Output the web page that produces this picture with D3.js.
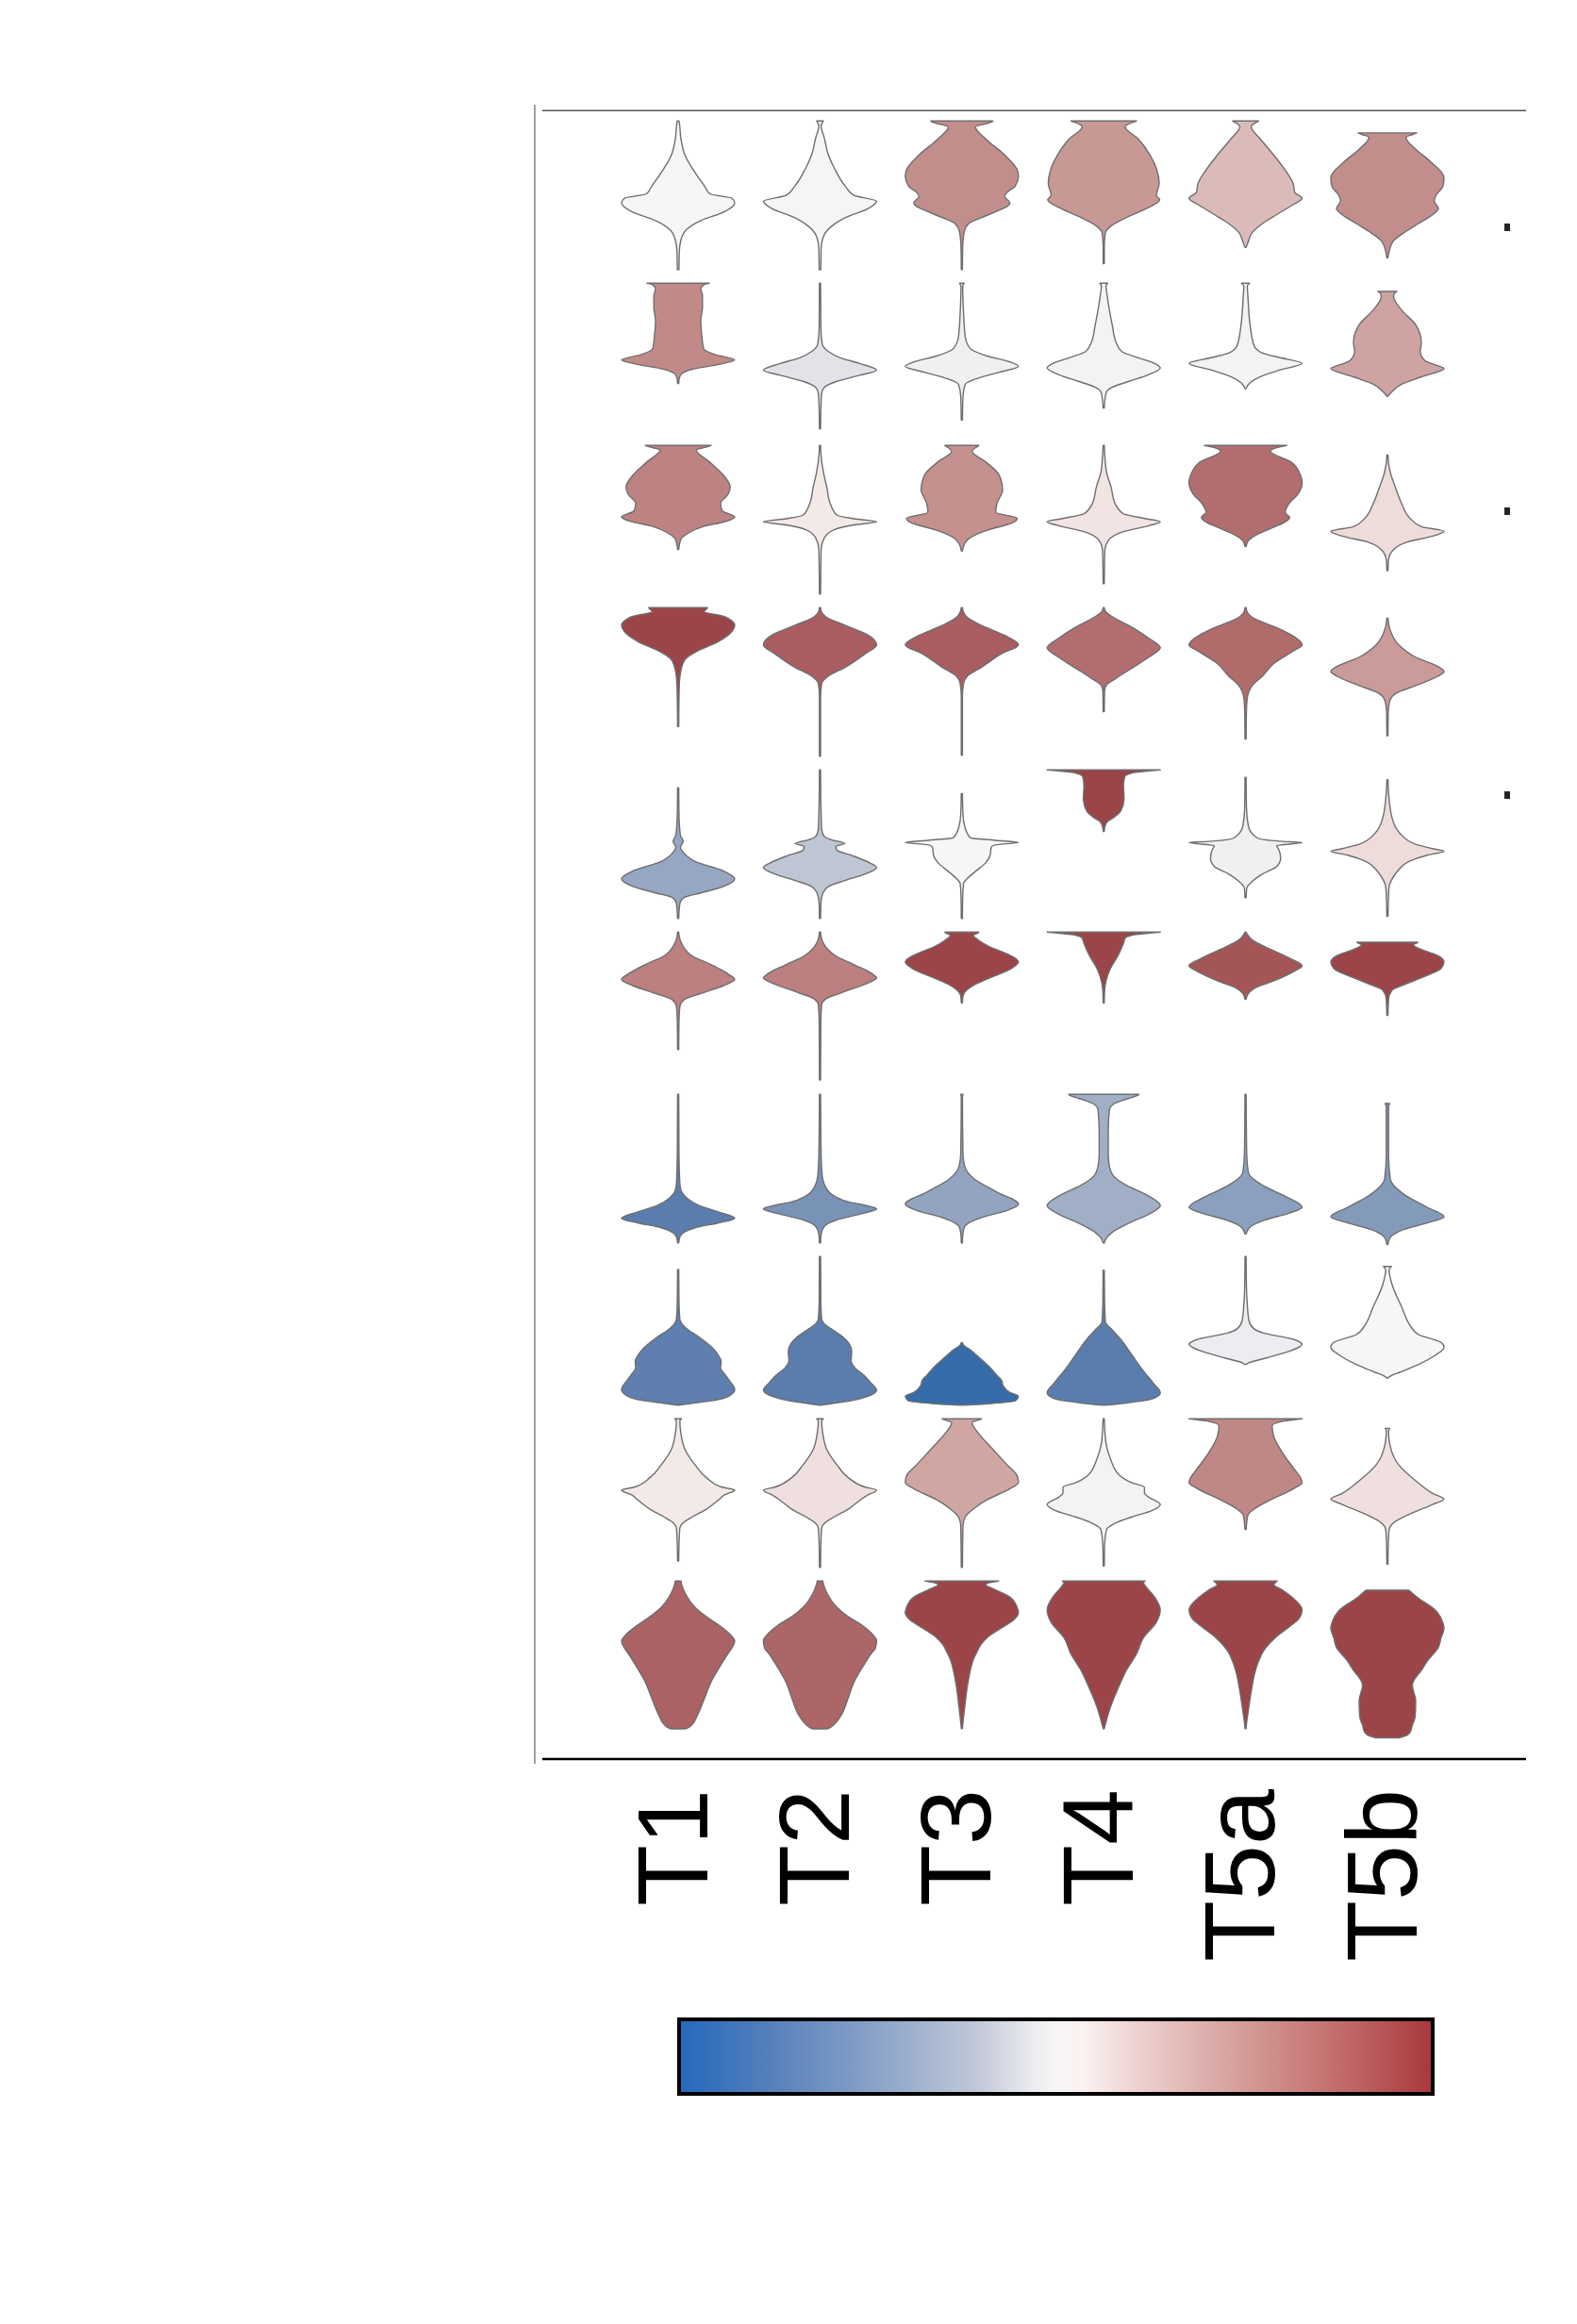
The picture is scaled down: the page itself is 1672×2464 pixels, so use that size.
<!DOCTYPE html>
<html><head><meta charset="utf-8">
<script src="https://cdn.jsdelivr.net/npm/d3@7"></script>
<style>html,body{margin:0;padding:0;background:#fff;} svg{display:block;}</style>
</head><body><svg id="chart" width="1672" height="2464"></svg>
<script>
// ---------------- DATA ----------------
const groups = ["T1", "T2", "T3", "T4", "T5a", "T5b"];
const genes = ["g1", "g2", "g3", "g4", "g5", "g6", "g7", "g8", "g9", "g10"];

// colour value (0 = low / blue, 1 = high / red) of each violin, rows = genes, cols = groups
const colorValues = [
  [0.50, 0.52, 0.81, 0.78, 0.68, 0.81],
  [0.82, 0.45, 0.48, 0.49, 0.49, 0.75],
  [0.84, 0.56, 0.80, 0.57, 0.90, 0.59],
  [1.00, 0.94, 0.94, 0.90, 0.91, 0.77],
  [0.27, 0.38, 0.50, 1.00, 0.48, 0.59],
  [0.85, 0.85, 1.00, 1.00, 0.96, 1.00],
  [0.10, 0.19, 0.26, 0.30, 0.24, 0.22],
  [0.11, 0.10, 0.00, 0.10, 0.47, 0.50],
  [0.56, 0.58, 0.74, 0.49, 0.83, 0.58],
  [0.93, 0.92, 1.00, 1.00, 1.00, 1.00]
];

// density outlines: [value (0-100 of gene range), relative width (0-1)], from top to bottom
const violinShapes = [
  [ // gene 1
    [[100,.015],[99,.02],[88,.05],[77,.12],[67,.27],[56,.47],[51,.56],[48,.95],[45,1],[39,.82],[33,.4],[27,.15],[20,.05],[12,.02],[0,.015]],
    [[100,.06],[97,.02],[88,.08],[77,.15],[67,.27],[56,.45],[50,.6],[46,1],[41,.85],[35,.45],[29,.2],[23,.07],[14,.02],[0,.015]],
    [[100,.55],[99,.5],[96,.24],[88,.42],[77,.76],[67,.98],[63,1],[56,.94],[52,.8],[49,.76],[45,.85],[43,.82],[39,.6],[35,.35],[31,.12],[25,.04],[15,.015],[0,.01]],
    [[100,.58],[99,.5],[96,.38],[88,.61],[77,.82],[67,.94],[58,.98],[50,.93],[47,.99],[41,.75],[35,.4],[29,.12],[25,.03],[15,.01],[4,.01]],
    [[100,.23],[99,.18],[96,.1],[88,.26],[77,.5],[67,.7],[58,.84],[52,.87],[48,1],[44,.85],[37,.55],[31,.3],[25,.12],[18,.04],[15,.01]],
    [[92,.52],[91,.45],[89,.33],[81,.5],[73,.75],[62,1],[56,.98],[50,.86],[46,.83],[41,.9],[37,.8],[31,.55],[25,.3],[19,.1],[12,.03],[8,.01]]
  ],
  [ // gene 2
    [[100,.55],[99,.45],[96,.4],[91.7,.43],[84,.43],[74.8,.4],[64,.42],[56,.45],[52,.65],[48.4,1],[45.2,.7],[42.1,.25],[39,.06],[36,.02],[32.5,.01]],
    [[100,.01],[70,.015],[59,.04],[54,.15],[50,.35],[46,.7],[41.5,1],[38,.7],[34,.3],[30,.08],[26,.03],[15,.015],[2,.01]],
    [[100,.04],[98,.015],[80,.03],[64,.06],[56,.15],[51,.45],[47,.85],[44,1],[40,.65],[36,.28],[32,.06],[24,.02],[8,.01]],
    [[100,.07],[98,.04],[92,.06],[82,.1],[72,.15],[60,.22],[54,.32],[50,.6],[46,.9],[43,1],[38.5,.8],[34,.45],[30,.15],[27,.05],[21,.02],[16,.01]],
    [[100,.07],[98,.03],[92,.04],[72,.08],[58,.15],[53,.3],[50,.6],[46,1],[41.5,.6],[37,.25],[33,.08],[30,.02],[29,.01]],
    [[94.5,.17],[93,.12],[91,.11],[82,.25],[72,.5],[60,.6],[54,.58],[48,.66],[45,.85],[42.6,1],[37,.6],[32,.25],[27,.08],[24,.01]]
  ],
  [ // gene 3
    [[100,.58],[99,.5],[97,.32],[89,.55],[80,.8],[72,.92],[67,.88],[61,.75],[56,.78],[52,1],[49,.85],[45.5,.45],[41,.18],[37,.05],[30,.01]],
    [[100,.01],[95,.015],[82,.06],[72,.12],[61,.18],[53,.3],[50.7,.6],[48.6,1],[46.5,.6],[43.3,.25],[38,.08],[30,.02],[0,.01]],
    [[100,.3],[99,.26],[96,.18],[89,.42],[80,.66],[70,.72],[61,.62],[55,.6],[51,.98],[48,.9],[43,.45],[38,.15],[34,.05],[29,.01]],
    [[100,.01],[96,.015],[82,.05],[72,.13],[61,.2],[54,.35],[50.7,.75],[48.6,1],[46,.8],[42,.35],[36,.08],[29.5,.02],[7,.01]],
    [[100,.73],[99,.6],[96,.44],[89,.8],[80,.97],[75,1],[67,.92],[61,.77],[55,.7],[51.5,.78],[49,.72],[45,.5],[40,.2],[36,.05],[32,.01]],
    [[93.5,.01],[90,.015],[82,.05],[72,.14],[61,.25],[51,.4],[45.4,.6],[42.2,1],[39,.8],[35,.35],[29.5,.1],[23,.02],[15.7,.01]]
  ],
  [ // gene 4
    [[100,.52],[99,.5],[97.4,.46],[94,.82],[88,1],[84,.95],[77,.7],[71,.35],[65,.12],[56,.04],[48,.02],[20,.01]],
    [[100,.01],[97,.03],[94,.1],[88,.45],[81.5,.85],[75,1],[69,.8],[60,.45],[54,.15],[49,.03],[40,.01],[0,.01]],
    [[100,.01],[97,.03],[94,.08],[88,.35],[81.5,.75],[75,1],[69,.7],[60,.35],[54,.1],[49,.03],[40,.01],[0.6,.01]],
    [[100,.01],[97,.04],[94,.15],[85.7,.55],[79.4,.8],[73,1],[66.7,.8],[58.2,.45],[52,.2],[48,.05],[44,.015],[30,.01]],
    [[100,.01],[97,.03],[94,.1],[85.7,.6],[79.4,.9],[75,1],[71,.85],[62.4,.5],[54,.3],[47.6,.12],[39,.03],[30,.015],[11.6,.01]],
    [[93,.01],[86,.04],[75,.2],[66.7,.5],[60.3,.9],[57,1],[54,.9],[47.6,.5],[42.3,.15],[37,.04],[30,.015],[13.8,.01]]
  ],
  [ // gene 5
    [[88,.01],[70,.015],[56,.04],[52,.09],[48,.04],[45,.08],[38.4,.3],[32,.8],[26.8,1],[21.5,.8],[17.2,.4],[14,.1],[10,.03],[0,.01]],
    [[100,.01],[80,.015],[60,.03],[55,.08],[53,.2],[50.5,.44],[48.5,.28],[46,.3],[42.6,.55],[37.4,.88],[34.2,1],[30,.8],[25.7,.45],[21.5,.15],[17,.05],[10,.015],[0,.01]],
    [[84,.01],[70,.02],[62,.05],[54.3,.15],[52.6,.6],[51.1,1],[49.6,.6],[48,.52],[42.6,.5],[37.4,.42],[32,.25],[27,.1],[23.6,.03],[15,.015],[0,.01]],
    [[100,1],[99.3,.8],[98,.5],[95.4,.37],[89,.35],[80.7,.36],[72.3,.3],[68,.18],[65,.06],[61.7,.02],[58.5,.01]],
    [[95,.01],[75,.015],[62,.05],[54.3,.2],[52,.6],[51.1,1],[49,.55],[47,.58],[40.5,.62],[35,.55],[30,.3],[23.6,.08],[20.5,.02],[14,.01]],
    [[93.4,.01],[85,.02],[68,.08],[57.4,.22],[50,.5],[47,.8],[45.2,1],[42.6,.7],[38.4,.38],[32,.18],[25.7,.07],[21.5,.03],[10,.015],[1.4,.01]]
  ],
  [ // gene 6
    [[100,.01],[97,.02],[92.5,.06],[84,.25],[77.8,.6],[71.4,.9],[68.2,1],[64,.8],[58.7,.4],[54.4,.1],[50,.03],[40,.015],[21,.01]],
    [[100,.01],[97,.02],[92.5,.06],[84,.28],[77.8,.62],[72,.92],[69.2,1],[65,.8],[59.5,.4],[55,.1],[51,.03],[40,.015],[0.5,.01]],
    [[100,.3],[99,.26],[97.9,.2],[94.5,.3],[90,.5],[86.2,.75],[80,1],[75.6,.88],[69.3,.5],[64,.2],[60.8,.08],[57,.02],[52.4,.01]],
    [[100,1],[99.3,.8],[98,.5],[96,.38],[92.5,.35],[84,.25],[75.6,.12],[67,.04],[60,.015],[52.4,.01]],
    [[100,.01],[98,.04],[94.7,.12],[88.3,.45],[82,.8],[77.3,1],[73.5,.85],[67.2,.5],[62,.15],[58.7,.05],[54.9,.01]],
    [[93.2,.54],[92.4,.5],[91.5,.46],[88.3,.6],[84.1,.9],[80,1],[75.6,.95],[69.3,.6],[64,.25],[60.8,.08],[55,.02],[44,.01]]
  ],
  [ // gene 7
    [[100,.01],[60,.015],[40,.03],[34.6,.06],[30.3,.15],[25,.38],[20.8,.72],[16.6,1],[13.4,.7],[10.2,.3],[7,.1],[4,.03],[0,.01]],
    [[100,.01],[60,.02],[45,.04],[34.6,.15],[28.2,.45],[22.9,1],[19.8,.75],[15.5,.3],[11.3,.08],[6,.02],[0,.01]],
    [[100,.02],[98,.01],[60,.02],[51.5,.05],[43,.22],[34.6,.6],[26.1,1],[21.9,.8],[17.7,.4],[13.4,.12],[10.2,.04],[5,.015],[0,.01]],
    [[100,.62],[99.3,.6],[98,.5],[95.5,.3],[93.7,.18],[89.5,.1],[75,.08],[60,.08],[51.5,.1],[45.2,.17],[38.8,.4],[32.5,.75],[25.1,1],[19.8,.82],[13.4,.45],[7.1,.15],[2.8,.04],[0,.01]],
    [[100,.01],[60,.02],[47.3,.05],[38.8,.3],[31.4,.7],[24,1],[19.8,.75],[15.5,.35],[11.3,.1],[8,.03],[6,.01]],
    [[93.8,.04],[92,.02],[60,.02],[43,.05],[32.5,.3],[24,.7],[17.7,1],[13.4,.7],[9.2,.3],[4.9,.08],[1,.02],[-1,.01]]
  ],
  [ // gene 8
    [[91.3,.01],[70,.015],[58,.03],[54,.08],[50,.2],[46.4,.35],[42,.5],[38,.62],[33,.72],[29.5,.76],[25.3,.75],[20,.84],[16.8,.9],[10.5,1],[6.2,.9],[3,.6],[1,.2],[0,.01]],
    [[100,.01],[70,.015],[58,.03],[54,.1],[50,.25],[46,.4],[41,.52],[36,.56],[30,.55],[25,.62],[20,.78],[15,.9],[10,1],[6,.85],[3,.55],[1,.2],[0,.02]],
    [[42.2,.01],[40,.04],[38,.12],[31.6,.32],[25.3,.5],[20,.62],[16.8,.7],[13,.73],[8.5,.85],[6,1],[3,.95],[1,.5],[0,.05]],
    [[90.8,.01],[70,.015],[56,.03],[50.7,.15],[44.3,.3],[33.7,.5],[23.1,.7],[14.7,.88],[8.3,1],[4.1,.85],[1.5,.4],[0,.02]],
    [[100,.01],[80,.015],[68,.03],[57,.06],[51.7,.14],[48.5,.32],[44.3,.85],[42.2,.97],[41,1],[36.9,.82],[31.6,.35],[28.5,.06],[27.4,.01]],
    [[93.4,.07],[92.5,.05],[90.8,.03],[80.3,.09],[65.4,.26],[54.9,.38],[47.5,.55],[42.2,.95],[39,1],[33.7,.85],[27.4,.55],[22.1,.22],[19.5,.05],[18.3,.01]]
  ],
  [ // gene 9
    [[100,.06],[98.5,.03],[90,.05],[79.4,.12],[69,.3],[60.4,.5],[54,.78],[52,1],[48.8,.82],[45.6,.72],[39.2,.5],[34,.25],[29.7,.08],[26.5,.03],[15,.015],[4.3,.01]],
    [[100,.06],[98.5,.03],[90,.05],[79.4,.12],[69,.3],[60.4,.5],[54,.8],[52,1],[48.8,.85],[45.6,.72],[39.2,.5],[34,.25],[29.7,.08],[26.5,.03],[15,.015],[0,.01]],
    [[100,.35],[99,.28],[97.5,.18],[90,.3],[79.4,.55],[69,.8],[61.5,.98],[57.2,1],[53,.85],[45.6,.45],[39.2,.2],[34,.06],[28,.02],[0,.01]],
    [[100,.01],[83.7,.04],[73,.12],[62,.28],[57,.5],[54,.72],[50,.72],[47.7,.78],[42.4,1],[38.2,.85],[34,.5],[29.7,.2],[25.5,.05],[15,.015],[1,.01]],
    [[100,1],[99.3,.85],[98.5,.68],[95.3,.47],[88,.5],[77.3,.65],[66.7,.85],[60.4,.97],[57.2,1],[53,.85],[45.6,.45],[39.2,.15],[35,.04],[25.5,.01]],
    [[93.6,.04],[92,.02],[81.6,.05],[69,.2],[58.3,.5],[49.8,.8],[46,1],[42.4,.8],[36,.4],[29.7,.1],[25.5,.03],[15,.015],[2.2,.01]]
  ],
  [ // gene 10
    [[100,.05],[98,.06],[91.3,.13],[82.3,.3],[76,.5],[70,.73],[64,.92],[59.6,1],[55,.95],[51,.88],[42.6,.74],[32,.58],[21.5,.47],[8.8,.33],[3.5,.25],[1,.16],[0.5,.12]],
    [[100,.05],[98,.06],[91.3,.13],[82.3,.3],[76,.5],[70,.75],[64,.93],[60,1],[55,.98],[51,.9],[42.6,.76],[32,.6],[21.5,.5],[8.8,.36],[3.5,.25],[1,.16],[0.5,.12]],
    [[100,.65],[99,.5],[97.6,.42],[94,.6],[89.2,.85],[82,.98],[78.6,1],[74,.92],[68,.68],[62,.45],[57.4,.34],[51,.25],[46.9,.2],[38,.14],[29.9,.1],[15,.05],[5,.02],[0.7,.01]],
    [[100,.73],[99,.7],[97.6,.72],[89.2,.9],[80.7,1],[72.3,.93],[61.7,.7],[51,.58],[40.5,.41],[25.7,.23],[13,.1],[5,.04],[0.7,.01]],
    [[100,.56],[99,.53],[97.6,.5],[94,.65],[89.2,.82],[80.7,1],[75,.95],[70,.8],[61.7,.52],[53.2,.32],[46,.23],[40.5,.18],[25.7,.1],[13,.05],[5,.02],[0.7,.01]],
    [[93.8,.38],[89.2,.52],[80.7,.84],[72,.98],[68,1],[62,.95],[55.3,.9],[46.9,.72],[40.5,.61],[30,.44],[19.4,.5],[8.8,.49],[3,.44],[-2,.4],[-4.5,.3],[-5.6,.2]]
  ]
];

// colormap (vlag-like) stops
const cmapPositions = [0, 0.1, 0.2, 0.3, 0.4, 0.47, 0.5, 0.535, 0.6, 0.7, 0.8, 0.9, 1];
const cmapColors = ["#2369bd", "#4d7bbb", "#7393c2", "#9aaecc", "#c3cad9", "#ebecf1", "#f7f6f6", "#f9f2f0", "#efd5d3", "#ddaeab", "#cd8986", "#bd6364", "#a9373b"];

// ---------------- DRAW ----------------
const W = 1672, H = 2464;
const svg = d3.select("#chart");
svg.append("rect").attr("width", W).attr("height", H).attr("fill", "#fff");

const x = d3.scalePoint().domain(groups).range([719, 1471]);
const rowTop = d3.scaleLinear().domain([0, genes.length - 1]).range([128.3, 128.3 + 172 * (genes.length - 1)]);
const yU = d3.scaleLinear().domain([100, 0]).range([0, 157.5]);
const halfW = d3.scaleLinear().domain([0, 1]).range([0, 60]);
const cmap = d3.scaleLinear().domain(cmapPositions).range(cmapColors).interpolate(d3.interpolateRgb).clamp(true);
function fillFor(v) { const c = d3.hsl(cmap(v)); c.s *= 0.75; return c.formatHex(); }

// frame
svg.append("line").attr("x1", 567).attr("x2", 567).attr("y1", 111).attr("y2", 1870)
  .attr("stroke", "#7a7a7a").attr("stroke-width", 1.4);
svg.append("line").attr("x1", 575).attr("x2", 1618).attr("y1", 117.3).attr("y2", 117.3)
  .attr("stroke", "#555").attr("stroke-width", 1.5);

// violins
const gV = svg.append("g");
genes.forEach((g, i) => {
  groups.forEach((grp, j) => {
    const cx = x(grp), top = rowTop(i);
    const area = d3.area().curve(d3.curveMonotoneY)
      .y(d => top + yU(d[0]))
      .x0(d => cx - halfW(d[1]))
      .x1(d => cx + halfW(d[1]));
    gV.append("path").attr("d", area(violinShapes[i][j]))
      .attr("fill", fillFor(colorValues[i][j]))
      .attr("stroke", "#6e6e6e").attr("stroke-width", 1.4).attr("stroke-linejoin", "round");
  });
});

// small right-hand marks
[241, 542, 843].forEach(yy => {
  svg.append("rect").attr("x", 1595).attr("y", yy - 4).attr("width", 6).attr("height", 8).attr("fill", "#262626");
});

// bottom axis
const xAxis = svg.append("g").attr("transform", "translate(0,1865)")
  .call(d3.axisBottom(x).tickSize(0).tickPadding(0));
xAxis.select(".domain").remove();
xAxis.selectAll("text")
  .attr("transform", "rotate(-90)")
  .attr("x", -32).attr("y", 30).attr("dy", 0)
  .attr("text-anchor", "end")
  .style("font-family", "'Liberation Sans', Arial, Helvetica, sans-serif")
  .style("font-size", "106px").attr("fill", "#000");
svg.append("line").attr("x1", 575).attr("x2", 1618).attr("y1", 1865).attr("y2", 1865)
  .attr("stroke", "#000").attr("stroke-width", 2.7);

// colorbar
const defs = svg.append("defs");
const grad = defs.append("linearGradient").attr("id", "cbar").attr("x1", "0%").attr("x2", "100%");
cmapPositions.forEach((p, k) => grad.append("stop").attr("offset", (p * 100) + "%").attr("stop-color", cmapColors[k]));
svg.append("rect").attr("x", 720).attr("y", 2141).attr("width", 799).attr("height", 79)
  .attr("fill", "url(#cbar)").attr("stroke", "#000").attr("stroke-width", 4);
</script>
</body></html>
